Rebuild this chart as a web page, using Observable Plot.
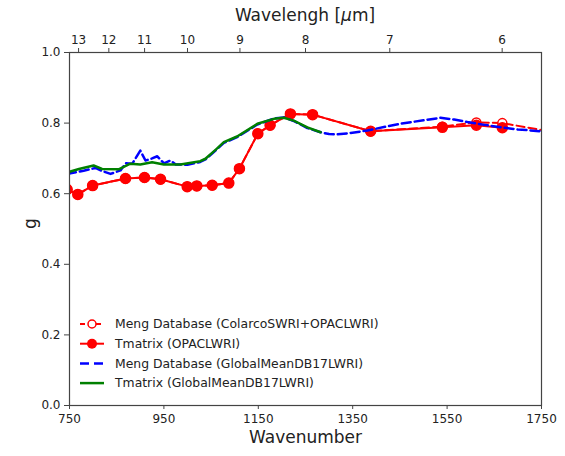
<!DOCTYPE html>
<html>
<head>
<meta charset="utf-8">
<script src="https://cdn.jsdelivr.net/npm/d3@7"></script>
<script src="https://cdn.jsdelivr.net/npm/@observablehq/plot@0.6"></script>
<style>
  body { margin: 0; background: #fff; font-family: "DejaVu Sans", sans-serif; }
  #wrap { position: relative; width: 565px; height: 456px; }
</style>
</head>
<body>
<div id="wrap"></div>
<script>
// ---- data ----
const tmWave = [745, 767.6, 799, 868.6, 908.9, 942.8, 999.4, 1019.7, 1052.3, 1087.5, 1110, 1149, 1175, 1218, 1265, 1388, 1540, 1612, 1667];
const tmG    = [0.612, 0.598, 0.623, 0.643, 0.646, 0.641, 0.620, 0.622, 0.624, 0.630, 0.671, 0.770, 0.794, 0.826, 0.824, 0.777, 0.788, 0.794, 0.787];

const mengRedWave = [745, 767.6, 799, 868.6, 908.9, 942.8, 999.4, 1019.7, 1052.3, 1087.5, 1110, 1149, 1175, 1218, 1265, 1388, 1540, 1612, 1667, 1760];
const mengRedG    = [0.612, 0.598, 0.623, 0.643, 0.646, 0.641, 0.620, 0.622, 0.624, 0.630, 0.671, 0.770, 0.794, 0.826, 0.824, 0.777, 0.790, 0.802, 0.800, 0.778];

const mengBlueWave = [745, 752, 780, 805, 816, 837, 858, 869, 883, 900, 911, 925, 936, 950, 964, 975, 1000, 1027, 1038, 1060, 1077, 1105, 1148, 1183, 1204, 1225, 1254, 1282, 1300, 1317, 1340, 1381, 1420, 1451, 1500, 1536, 1565, 1593, 1630, 1663, 1700, 1748, 1760];
const mengBlueG    = [0.655, 0.658, 0.665, 0.673, 0.666, 0.656, 0.666, 0.686, 0.685, 0.722, 0.694, 0.700, 0.706, 0.686, 0.694, 0.683, 0.682, 0.690, 0.697, 0.723, 0.744, 0.760, 0.796, 0.813, 0.816, 0.806, 0.786, 0.774, 0.769, 0.768, 0.771, 0.779, 0.790, 0.798, 0.808, 0.815, 0.810, 0.803, 0.795, 0.788, 0.782, 0.777, 0.776];

const tmGreenWave = [745, 752, 770, 801, 819, 854, 879, 900, 925, 950, 985, 1027, 1038, 1060, 1077, 1105, 1148, 1183, 1204, 1225, 1254, 1282];
const tmGreenG    = [0.660, 0.663, 0.670, 0.680, 0.670, 0.669, 0.685, 0.683, 0.689, 0.683, 0.683, 0.692, 0.699, 0.725, 0.746, 0.762, 0.798, 0.812, 0.815, 0.807, 0.788, 0.774];

const xTicks = [750, 950, 1150, 1350, 1550, 1750];
const yTicks = [0.0, 0.2, 0.4, 0.6, 0.8, 1.0];
const wavelengthTicks = [13, 12, 11, 10, 9, 8, 7, 6];

const series = [
  {name: "Meng Database (ColarcoSWRI+OPACLWRI)", color: "#ff0000", dash: "5,3", width: 2, marker: "open"},
  {name: "Tmatrix (OPACLWRI)", color: "#ff0000", dash: null, width: 2, marker: "filled"},
  {name: "Meng Database (GlobalMeanDB17LWRI)", color: "#0000ff", dash: "9,5", width: 2.5, marker: null},
  {name: "Tmatrix (GlobalMeanDB17LWRI)", color: "#008000", dash: null, width: 2.5, marker: null}
];

const zip = (xs, ys) => xs.map((x, i) => ({x, y: ys[i]}));
const mengRed = zip(mengRedWave, mengRedG);
const tm = zip(tmWave, tmG);
const mengBlue = zip(mengBlueWave, mengBlueG);
const tmGreen = zip(tmGreenWave, tmGreenG);

const font = "DejaVu Sans, sans-serif";

const chart = Plot.plot({
  width: 565,
  height: 456,
  marginLeft: 69,
  marginRight: 24,
  marginTop: 52,
  marginBottom: 51,
  style: {fontFamily: font, background: "#fff", color: "#222"},
  x: {domain: [750, 1750]},
  y: {domain: [0, 1]},
  marks: [
    Plot.line(mengRed, {x: "x", y: "y", stroke: series[0].color, strokeWidth: 2, strokeDasharray: "8,4", clip: true}),
    Plot.dot(mengRed, {x: "x", y: "y", r: 4.5, stroke: series[0].color, strokeWidth: 1.5, fill: "white", clip: true}),
    Plot.line(tm, {x: "x", y: "y", stroke: series[1].color, strokeWidth: 2, clip: true}),
    Plot.dot(tm, {x: "x", y: "y", r: 5, fill: series[1].color, stroke: series[1].color, clip: true}),
    Plot.line(mengBlue, {x: "x", y: "y", stroke: series[2].color, strokeWidth: 2.5, strokeDasharray: "9,4", clip: true}),
    Plot.line(tmGreen, {x: "x", y: "y", stroke: series[3].color, strokeWidth: 2.5, clip: true}),
    Plot.frame({stroke: "#444", strokeWidth: 1.2}),
    Plot.axisX({ticks: xTicks, tickSize: 4, tickPadding: 5, fontSize: 12, label: null, tickFormat: d => String(d), stroke: "#444"}),
    Plot.axisX({anchor: "top", ticks: wavelengthTicks.map(w => 10000 / w), tickSize: 5, tickPadding: 4, fontSize: 12, label: null,
                tickFormat: d => String(Math.round(10000 / d)), stroke: "#444"}),
    Plot.axisY({ticks: yTicks, tickSize: 5, tickPadding: 4, fontSize: 12, label: null, tickFormat: d3.format(".1f"), stroke: "#444"}),
    Plot.text(["Wavenumber"], {frameAnchor: "bottom", dy: 37, fontSize: 17, fill: "#222"}),
    Plot.text(["g"], {frameAnchor: "left", dx: -39, rotate: -90, fontSize: 17, fill: "#222"})
  ]
});

document.getElementById("wrap").appendChild(chart);

const svg = d3.select(chart);
const title = svg.append("text")
  .attr("x", 69 + (565 - 69 - 24) / 2)
  .attr("y", 21)
  .attr("text-anchor", "middle")
  .attr("font-size", 17)
  .attr("font-family", font)
  .attr("fill", "#222");
title.append("tspan").text("Wavelengh [");
title.append("tspan").attr("font-style", "italic").text("μ");
title.append("tspan").text("m]");

const lg = svg.append("g").attr("font-family", font).attr("font-size", 12.4).attr("fill", "#222").attr("text-anchor", "start");
series.forEach((s, i) => {
  const y = 324 + i * 19.7;
  const row = lg.append("g").attr("transform", `translate(0,${y})`);
  row.append("line").attr("x1", 80).attr("x2", 104).attr("y1", 0).attr("y2", 0)
    .attr("stroke", s.color).attr("stroke-width", s.width)
    .attr("stroke-dasharray", s.dash);
  if (s.marker === "open") row.append("circle").attr("cx", 92).attr("cy", 0).attr("r", 4).attr("fill", "white").attr("stroke", s.color).attr("stroke-width", 1.5);
  if (s.marker === "filled") row.append("circle").attr("cx", 92).attr("cy", 0).attr("r", 5).attr("fill", s.color);
  row.append("text").attr("x", 115).attr("y", 0).attr("dy", "0.35em").attr("text-anchor", "start").text(s.name);
});
</script>
</body>
</html>
